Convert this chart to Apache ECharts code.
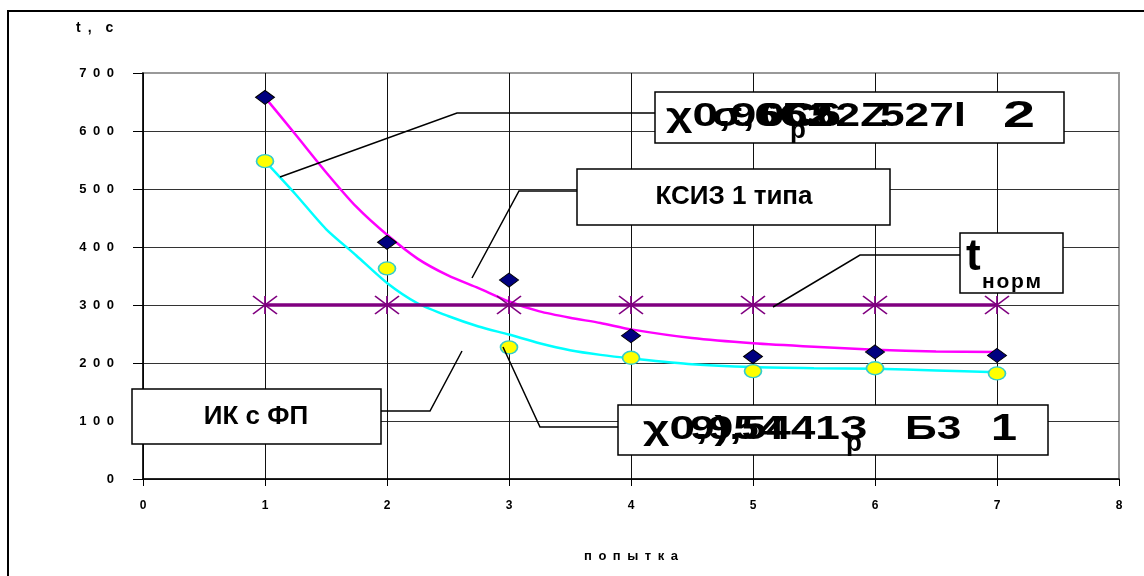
<!DOCTYPE html>
<html>
<head>
<meta charset="utf-8">
<script src="https://cdn.jsdelivr.net/npm/echarts@6/dist/echarts.min.js"></script>
<style>
  html, body { margin: 0; padding: 0; background: #fff; }
  #chart { width: 1144px; height: 576px; }
</style>
</head>
<body>
<div id="chart"></div>
<script>
// Attempt numbers and measured times, t (s)
const attempts = [1, 2, 3, 4, 5, 6, 7];
const ksizTimes = [658, 408, 343, 247, 211, 219, 213];   // dark diamonds
const ikfpTimes = [548, 363, 227, 209, 186, 191, 182];   // yellow circles
const normTimes = [300, 300, 300, 300, 300, 300, 300];   // t норм

// Fitted trend curves
const trendX = [1, 1.25, 1.5, 1.75, 2, 2.25, 2.5, 2.75, 3, 3.25, 3.5, 3.75, 4, 4.5, 5, 5.5, 6, 6.5, 7];
const ksizTrend = [658, 594, 529, 469, 421, 380, 351, 329, 306, 289, 278, 269, 258, 243, 234, 228, 223, 220, 219];
const ikfpTrend = [548, 491, 431, 385, 338, 303, 281, 263, 249, 234, 222, 214, 208, 198, 193, 191, 190, 187, 184];

// Axis ticks
const xTicks = [0, 1, 2, 3, 4, 5, 6, 7, 8];
const yTicks = [0, 100, 200, 300, 400, 500, 600, 700];

const pairs = (xs, ys) => xs.map((x, i) => [x, ys[i]]);
const spaced = v => String(v).split('').join('\u2002');

const chart = echarts.init(document.getElementById('chart'), null, { renderer: 'canvas' });

const FONT = '"Liberation Sans", Arial, sans-serif';
const asterisk = 'path://M0,0 L24,18 M24,0 L0,18 M12,0 L12,18';

function box(x, y, w, h) {
  return { type: 'rect', shape: { x: x, y: y, width: w, height: h },
           style: { fill: '#fff', stroke: '#000', lineWidth: 1.5 }, z: 20 };
}
function txt(x, y, s, size, align, sx) {
  return { type: 'text', x: x, y: y, z: 21, scaleX: sx || 1, originX: 0, originY: 0,
    style: { text: s, font: 'bold ' + size + 'px ' + FONT, fill: '#000',
      textAlign: align || 'left', textVerticalAlign: 'middle' } };
}
function leader(points) {
  return { type: 'polyline', shape: { points: points },
           style: { stroke: '#000', lineWidth: 1.5, fill: null }, z: 19 };
}

const graphics = [
  // outer frame
  { type: 'rect', shape: { x: 8, y: 11, width: 1300, height: 800 },
    style: { fill: null, stroke: '#000', lineWidth: 2 }, z: 0, silent: true },
  // axis titles
  txt(76, 28, 't\u2002,\u2003c', 14),
  txt(631, 556, 'п\u2002о\u2002п\u2002ы\u2002т\u2002к\u2002а', 13, 'center'),

  // callout lines
  leader([[280, 177], [457, 113], [655, 113]]),
  leader([[472, 278], [519, 191], [577, 191]]),
  leader([[773, 307], [860, 255], [960, 255]]),
  leader([[462, 351], [430, 411], [381, 411]]),
  leader([[503, 347], [540, 427], [618, 427]]),

  // callout boxes
  box(655, 92, 409, 51),
  box(577, 169, 313, 56),
  box(960, 233, 103, 60),
  box(132, 389, 249, 55),
  box(618, 405, 430, 50),

  // trend equation labels (overprinted)
  txt(666, 117, 'χ0,9652', 34, 'left', 1.35),
  txt(712, 117, 'σ,6С52Z', 34, 'left', 1.3),
  txt(760, 117, '0С6', 34, 'left', 1.3),
  txt(880, 117, '527l', 34, 'left', 1.3),
  txt(790, 131, 'р', 26),
  txt(1003, 117, '2', 36, 'left', 1.6),

  txt(734, 197, 'КСИЗ 1 типа', 26, 'center'),

  txt(966, 258, 't', 44),
  txt(982, 282, 'н\u200aо\u200aр\u200aм', 21),

  txt(256, 417, 'ИК с ФП', 26, 'center'),

  txt(643, 430, 'χ0,954', 34, 'left', 1.35),
  txt(690, 430, '9),5441З', 34, 'left', 1.3),
  txt(905, 430, 'Б3', 34, 'left', 1.3),
  txt(846, 444, 'р', 26),
  txt(991, 430, '1', 36, 'left', 1.3)
];

const option = {
  animation: false,
  backgroundColor: '#fff',
  grid: { left: 143, right: 25, top: 73, bottom: 97, containLabel: false,
          show: true, borderColor: '#999', borderWidth: 2, backgroundColor: 'transparent' },
  xAxis: {
    type: 'value', min: xTicks[0], max: xTicks[xTicks.length - 1], interval: 1,
    axisLine: { show: true, onZero: false, lineStyle: { color: '#000', width: 1.5 } },
    axisTick: { show: true, length: 7, lineStyle: { color: '#000', width: 1 } },
    axisLabel: { margin: 21, fontSize: 12, fontWeight: 'bold', fontFamily: FONT, color: '#000' },
    splitLine: { show: true, lineStyle: {
      color: ['#111', '#111', '#111', '#111', '#111', '#111', '#111', '#111', '#999'], width: 1 } }
  },
  yAxis: {
    type: 'value', min: yTicks[0], max: yTicks[yTicks.length - 1], interval: 100,
    axisLine: { show: true, onZero: false, lineStyle: { color: '#000', width: 1.5 } },
    axisTick: { show: true, length: 10, lineStyle: { color: '#000', width: 1 } },
    axisLabel: { margin: 29, fontSize: 13, fontWeight: 'bold', fontFamily: FONT, color: '#000',
      formatter: spaced, padding: [0, 0, 10, 0] },
    splitLine: { show: true, lineStyle: {
      color: ['#333', '#333', '#333', '#333', '#333', '#333', '#333', '#999'], width: 1 } }
  },
  series: [
    { type: 'line', name: 'ksizTrend', data: pairs(trendX, ksizTrend), smooth: 0.25,
      showSymbol: false, symbol: 'none', lineStyle: { color: '#FF00FF', width: 2.5 }, z: 3 },
    { type: 'line', name: 'ikfpTrend', data: pairs(trendX, ikfpTrend), smooth: 0.25,
      showSymbol: false, symbol: 'none', lineStyle: { color: '#00FFFF', width: 2.5 }, z: 3 },
    { type: 'line', name: 'norm', data: pairs(attempts, normTimes),
      symbol: asterisk, symbolSize: [24, 18], showSymbol: true,
      itemStyle: { color: 'rgba(0,0,0,0)', borderColor: '#800080', borderWidth: 1.5 },
      lineStyle: { color: '#800080', width: 3.5 }, z: 4 },
    { type: 'scatter', name: 'ksiz', data: pairs(attempts, ksizTimes),
      symbol: 'diamond', symbolSize: [19, 14],
      itemStyle: { color: '#000080', borderColor: '#000', borderWidth: 1, opacity: 1 }, z: 5 },
    { type: 'scatter', name: 'ikfp', data: pairs(attempts, ikfpTimes),
      symbol: 'circle', symbolSize: [17, 13],
      itemStyle: { color: '#FFFF00', borderColor: '#33CCCC', borderWidth: 1.5, opacity: 1 }, z: 5 }
  ],
  graphic: graphics
};

chart.setOption(option);
</script>
</body>
</html>
